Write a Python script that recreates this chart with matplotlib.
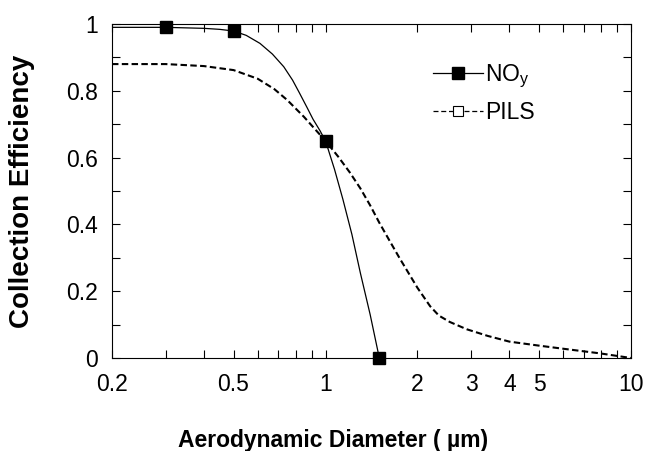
import numpy as np
import matplotlib.pyplot as plt
from matplotlib.lines import Line2D
from matplotlib.ticker import FixedLocator, FixedFormatter, NullFormatter

plt.rcParams['font.family'] = ['Liberation Sans', 'DejaVu Sans']
plt.rcParams['mathtext.fontset'] = 'custom'
plt.rcParams['mathtext.rm'] = 'Liberation Sans'

# NOy inlet: fitted curve and measured points
noy_d = [0.2, 0.3, 0.4, 0.45, 0.5, 0.55, 0.61, 0.67, 0.73, 0.78, 0.82, 0.87, 0.91, 0.96,
         1.0, 1.07, 1.14, 1.22, 1.3, 1.4, 1.5]
noy_ce = [0.99, 0.99, 0.987, 0.984, 0.979, 0.966, 0.942, 0.91, 0.872, 0.832, 0.795, 0.75,
          0.715, 0.68, 0.65, 0.565, 0.475, 0.37, 0.255, 0.13, 0.0]
noy_pts_d = [0.3, 0.5, 1.0, 1.5]
noy_pts_ce = [0.99, 0.98, 0.65, 0.0]

# PILS curve
pils_d = [0.2, 0.3, 0.4, 0.5, 0.6, 0.68, 0.75, 0.85, 1.0, 1.1, 1.2, 1.3, 1.4, 1.5, 1.63,
          1.75, 2.0, 2.2, 2.35, 2.55, 2.9, 3.4, 4.0, 5.0, 5.85, 7.9, 10.0]
pils_ce = [0.88, 0.88, 0.874, 0.862, 0.836, 0.805, 0.772, 0.722, 0.65, 0.603, 0.556, 0.508,
           0.457, 0.405, 0.347, 0.298, 0.21, 0.155, 0.127, 0.108, 0.086, 0.066, 0.049,
           0.037, 0.029, 0.014, 0.0]

x_major = [0.2, 0.5, 1, 2, 3, 4, 5, 10]
x_major_lbl = ['0.2', '0.5', '1', '2', '3', '4', '5', '10']
x_minor = [0.3, 0.4, 0.6, 0.7, 0.8, 0.9, 6, 7, 8, 9]
y_major = [0, 0.2, 0.4, 0.6, 0.8, 1.0]
y_major_lbl = ['0', '0.2', '0.4', '0.6', '0.8', '1']
y_minor = [0.1, 0.3, 0.5, 0.7, 0.9]

fig = plt.figure(figsize=(6.48, 4.51), dpi=100)
ax = fig.add_axes([112/648, 1-358/451, 519/648, 334/451])

ax.plot(noy_d, noy_ce, '-', color='black', lw=0.9)
ax.plot(noy_pts_d, noy_pts_ce, 's', color='black', ms=8, clip_on=False, zorder=5)
ax.plot(pils_d, pils_ce, color='black', lw=1.5, dashes=(3.1, 1.6))

ax.set_xscale('log')
ax.set_xlim(0.2, 10)
ax.set_ylim(0, 1)
ax.xaxis.set_major_locator(FixedLocator(x_major))
ax.xaxis.set_major_formatter(FixedFormatter(x_major_lbl))
ax.xaxis.set_minor_locator(FixedLocator(x_minor))
ax.xaxis.set_minor_formatter(NullFormatter())
ax.yaxis.set_major_locator(FixedLocator(y_major))
ax.yaxis.set_major_formatter(FixedFormatter(y_major_lbl))
ax.yaxis.set_minor_locator(FixedLocator(y_minor))

ax.tick_params(which='both', direction='in', top=True, right=True,
               length=5.5, width=0.8, labelsize=16.5)
ax.tick_params(axis='x', which='both', pad=10.5)
ax.tick_params(axis='y', which='both', pad=10)
for s in ax.spines.values():
    s.set_linewidth(0.8)

fig.text(22/648, 1-191/451, 'Collection Efficiency', rotation=90, ha='center',
         va='center', fontsize=20, fontweight='bold')
fig.text(333/648, 1-440/451, 'Aerodynamic Diameter ( \u00b5m)', ha='center',
         va='center', fontsize=16.5, fontweight='bold')

h1 = Line2D([], [], color='black', lw=0.9, marker='s', ms=8)
h2 = Line2D([], [], color='black', lw=0.9, dashes=(4, 2.2), marker='s', ms=7,
            mfc='white', mew=0.8)
ax.legend([h1, h2], ['NO$_\\mathregular{y}$', 'PILS'], loc='upper left',
          bbox_to_anchor=(0.618, 0.885), frameon=False, fontsize=16.5,
          handlelength=2.2, handletextpad=0.1, labelspacing=0.5,
          borderpad=0, borderaxespad=0, numpoints=1)

fig.savefig('out.png', dpi=100)
